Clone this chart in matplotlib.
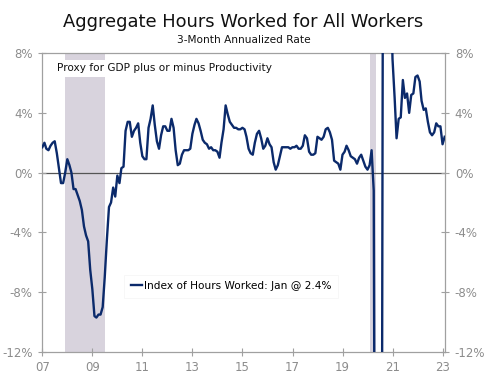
import matplotlib.pyplot as plt
import numpy as np
import pandas as pd

# monthly 3-month annualized rate, Dec 2006 .. Jan 2023
dates = pd.date_range('2006-12-31', '2023-01-31', freq='ME')
hours = [
    1.7, 2.0, 1.6, 1.5, 1.8, 2.0, 2.1, 1.3, 0.3, -0.7, -0.7, 0.0,
    0.9, 0.5, 0.0, -1.1, -1.1, -1.5, -1.9, -2.5, -3.6, -4.2, -4.6, -6.5,
    -7.8, -9.6, -9.7, -9.5, -9.5, -9.0, -7.0, -4.5, -2.3, -2.0, -1.0, -1.6,
    -0.2, -0.7, 0.3, 0.4, 2.8, 3.4, 3.4, 2.4, 2.8, 3.0, 3.3, 2.0,
    1.1, 0.9, 0.9, 3.0, 3.6, 4.5, 3.2, 2.1, 1.6, 2.5, 3.1, 3.1,
    2.8, 2.8, 3.6, 3.0, 1.5, 0.5, 0.6, 1.2, 1.5, 1.5, 1.5, 1.6,
    2.6, 3.2, 3.6, 3.3, 2.8, 2.2, 2.0, 1.9, 1.6, 1.7, 1.5, 1.5,
    1.4, 1.0, 2.0, 2.9, 4.5, 3.9, 3.4, 3.2, 3.0, 3.0, 2.9, 2.9,
    3.0, 2.9, 2.4, 1.6, 1.3, 1.2, 2.0, 2.6, 2.8, 2.3, 1.6, 1.8,
    2.3, 1.9, 1.7, 0.7, 0.2, 0.5, 1.1, 1.7, 1.7, 1.7, 1.7, 1.6,
    1.7, 1.7, 1.8, 1.6, 1.6, 1.8, 2.5, 2.3, 1.4, 1.2, 1.2, 1.3,
    2.4, 2.3, 2.2, 2.4, 2.9, 3.0, 2.7, 2.2, 0.8, 0.7, 0.6, 0.2,
    1.2, 1.4, 1.8, 1.5, 1.1, 1.0, 0.9, 0.6, 1.0, 1.2, 0.8, 0.4,
    0.2, 0.5, 1.5, -1.2, -45.0, -40.0, -30.0, -15.0, 60.0, 45.0, 30.0, 14.0,
    7.6, 5.0, 2.3, 3.6, 3.7, 6.2, 5.0, 5.3, 4.0, 5.2, 5.3, 6.4,
    6.5, 6.1, 4.8, 4.2, 4.3, 3.4, 2.7, 2.5, 2.7, 3.3, 3.1, 3.1,
    1.9, 2.4,
]
recessions = [('2007-12-01', '2009-06-30'), ('2020-02-01', '2020-04-30')]
yticks = [8, 4, 0, -4, -8, -12]
xticks = [2007, 2009, 2011, 2013, 2015, 2017, 2019, 2021, 2023]


def to_year(d):
    d = pd.Timestamp(d)
    return d.year + (d.dayofyear - 1) / (366 if d.is_leap_year else 365)


x = np.array([to_year(d) for d in dates])

fig = plt.figure(figsize=(4.87, 3.74), dpi=100)
ax = fig.add_axes([0.087, 0.059, 0.827, 0.799])

for start, end in recessions:
    ax.axvspan(to_year(start), to_year(end), color='#d8d3dd', lw=0, zorder=0)

ax.axhline(0, color='#555555', lw=0.9, zorder=1)
ax.plot(x, hours, color='#0b2a6b', lw=1.7, zorder=3,
        label='Index of Hours Worked: Jan @ 2.4%')

ax.set_xlim(2007, 2023.1)
ax.set_ylim(-12, 8)
ax.set_yticks(yticks)
ax.set_yticklabels([f'{t}%' for t in yticks])
ax.set_xticks(xticks)
ax.set_xticklabels([str(t)[2:] for t in xticks])

for s in ax.spines.values():
    s.set_color('#a0a0a0')
    s.set_linewidth(0.9)
ax.tick_params(axis='both', colors='#a0a0a0', labelcolor='#8c8c8c',
               labelsize=8.5, direction='inout', length=6, width=0.8)
ax.tick_params(axis='y', right=True, labelright=True, pad=4)

ax.text(2007.6, 7.0, 'Proxy for GDP plus or minus Productivity', fontsize=7.6,
        color='#111111', va='center', ha='left', zorder=4,
        bbox=dict(facecolor='white', edgecolor='none', pad=2.5))

leg = ax.legend(loc='center left', bbox_to_anchor=(0.19, 0.22), fontsize=7.6,
                frameon=True, handlelength=1.1, handletextpad=0.2,
                borderpad=0.6, fancybox=False)
leg.get_frame().set_edgecolor('#f4f4f4')
leg.get_frame().set_linewidth(0.6)

fig.text(0.5, 0.94, 'Aggregate Hours Worked for All Workers', ha='center',
         va='center', fontsize=12.9, color='#111111')
fig.text(0.5, 0.893, '3-Month Annualized Rate', ha='center', va='center',
         fontsize=7.6, color='#111111')

fig.savefig('out.png', dpi=100)
